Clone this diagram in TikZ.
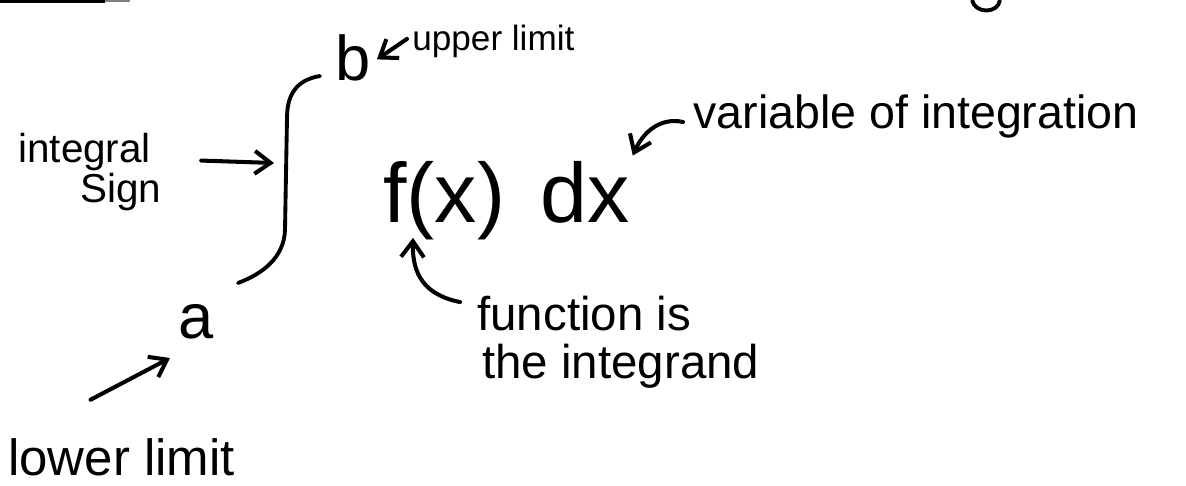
\documentclass[tikz,border=0pt]{standalone}
\usepackage{fontspec}
\setmainfont{Liberation Sans}
\usetikzlibrary{arrows.meta}

\newcommand{\fsz}[1]{\fontsize{#1}{1.2\dimexpr#1pt\relax}\selectfont}

\begin{document}
\begin{tikzpicture}[x=0.02cm,y=-0.02cm,
  lbl/.style={inner sep=0pt,anchor=base west},
  arr/.style={line width=2.3pt,line cap=round,-{Straight Barb[length=9pt,width=13pt]}}]
  \useasboundingbox (0,0) rectangle (1186,485);
  % torn edges of the scan
  \draw[line width=2pt] (0,1) -- (105,1);
  \draw[line width=1pt,gray] (105,1) -- (130,1);
  \draw[line width=2.2pt] (972,0) .. controls (975,14) and (998,14) .. (1000,0);
  % the integral sign and its limits
  \draw[line width=2.2pt,line cap=round] (320,76) .. controls (296,80) and (287,95) .. (287,118)
    -- (285,230) .. controls (284,258) and (262,274) .. (238,283);
  \coordinate (sgnin) at (274,163);
  \node[lbl,font=\fsz{36}] (b) at (335,80) {b};
  \node[lbl,font=\fsz{36}] (a) at (178,338) {a};
  \node[lbl,font=\fsz{48}] (fx) at (383,222) {f(x)};
  \node[lbl,font=\fsz{48}] (dx) at (540,222) {dx};
  % labels
  \node[lbl,font=\fsz{20}] (upper) at (412,50) {upper limit};
  \node[lbl,font=\fsz{23}] (intg) at (18,162) {integral};
  \node[lbl,font=\fsz{23}] (sign) at (80,202) {Sign};
  \node[lbl,font=\fsz{29}] (lower) at (8,475) {lower limit};
  \node[lbl,font=\fsz{26.5}] (var) at (693,128) {variable of integration};
  \node[lbl,font=\fsz{27}] (func) at (477,330) {function is};
  \node[lbl,font=\fsz{27}] (integrand) at (482,378) {the integrand};
  % arrows
  \draw[arr] ([shift={(-5,-2)}]upper.west) -- ([shift={(6,2)}]b.east);
  \draw[arr] ([shift={(50,9)}]intg.east) -- (sgnin);
  \draw[arr] ([shift={(-31,-38)}]lower.north) -- ([shift={(-8,19)}]a.south west);
  \draw[arr] ([shift={(-17,-11)}]func.west) .. controls ([shift={(-52,-18)}]func.west)
    and ([shift={(29,35)}]fx.south west) .. ([shift={(30,-2)}]fx.south west);
  \draw[arr] ([shift={(-10,6)}]var.west) .. controls ([shift={(-33,1)}]var.west)
    and ([shift={(13,-28)}]dx.north east) .. ([shift={(3,-5)}]dx.north east);
\end{tikzpicture}
\end{document}
